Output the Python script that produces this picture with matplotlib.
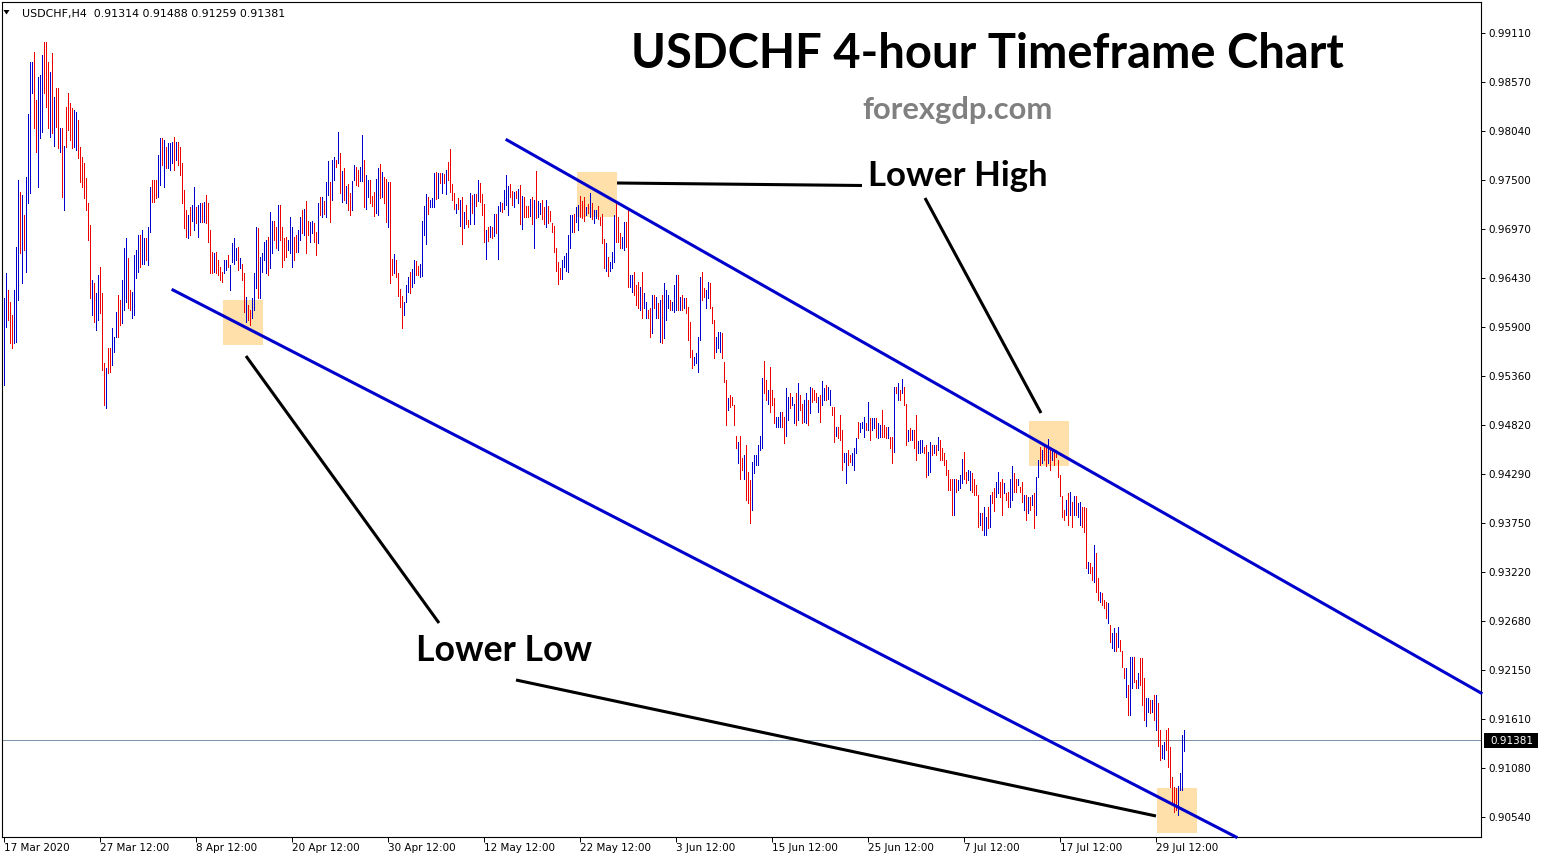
import matplotlib
matplotlib.use("Agg")
import matplotlib.pyplot as plt
import matplotlib.transforms as mtransforms
from matplotlib.patches import Rectangle, Polygon
from matplotlib.lines import Line2D
from matplotlib import font_manager
import numpy as np

# ---------------- data (USDCHF H4, prices x 10^4) ----------------
high_pips = [
    9621,9649,9630,9617,9603,9630,9677,9750,9737,9734,9712,9754,9823,9879,9879,9890,9838,9863,9865,9887,
    9901,9901,9879,9868,9889,9841,9851,9851,9807,9807,9788,9830,9845,9834,9829,9827,9825,9816,9786,9775,
    9769,9752,9725,9701,9641,9638,9627,9646,9655,9627,9550,9545,9567,9567,9588,9579,9606,9625,9619,9641,
    9676,9687,9665,9630,9628,9668,9674,9690,9690,9696,9687,9687,9699,9743,9750,9750,9750,9778,9796,9796,
    9794,9786,9791,9791,9792,9797,9792,9792,9786,9769,9739,9717,9712,9721,9723,9743,9721,9723,9725,9725,
    9726,9734,9725,9696,9672,9670,9672,9663,9655,9650,9663,9663,9668,9657,9681,9687,9676,9677,9665,9659,
    9649,9622,9614,9608,9621,9649,9699,9698,9666,9670,9682,9685,9688,9715,9706,9706,9699,9723,9723,9699,
    9687,9688,9685,9710,9699,9688,9690,9696,9710,
    9717,9719,9727,9706,9704,9705,9703,9693,9725,9732,9732,9727,9748,9771,9748,9772,9775,9772,9803,9780,
    9760,9763,9744,9746,9736,9749,9767,9764,9761,9764,9799,9772,9756,9750,9750,9733,9737,9751,9763,9768,
    9759,9754,9751,9748,9748,9664,9669,9663,9649,9631,9623,9617,9635,9644,9650,9653,9663,9662,9656,9659,
    9706,9722,9735,9732,9728,9731,9758,9759,9758,9758,9758,9757,9761,9770,9784,9746,9736,9724,9731,9728,
    9732,9715,9723,9707,9736,9734,9735,9735,9750,9747,9735,9724,9696,9699,9700,9699,9713,9713,9722,9726,
    9725,9739,9756,9744,9746,9738,9737,9738,9741,9745,9733,9732,9722,9722,9729,9732,9728,9760,9727,9725,
    9728,9721,9728,9722,9716,9703,9700,9676,9661,9654,9663,9667,9670,9690,9712,9712,9713,9721,9723,9733,
    9727,9732,9721,9724,9736,9725,9717,9717,9722,9710,9713,9686,9681,9666,9661,9672,9712,9725,9710,9692,
    9688,9704,9704,9717,9646,9646,9650,9635,9639,9633,9650,9627,9617,9608,9610,9625,9625,9622,9616,9619,
    9625,9638,9630,9625,9619,9617,9635,9646,9646,9622,9625,9621,9621,9611,9595,9564,9557,9561,9579,9644,
    9650,9632,9630,9639,9638,9611,9597,9579,9584,9584,9583,9551,9532,9512,9515,9513,9504,9471,9464,9471,
    9446,9450,9461,9431,9422,9442,9450,9450,9461,9471,9534,9553,9532,9521,9546,9521,9512,9491,9491,9497,
    9497,9491,9523,9513,9518,9513,9506,9517,9528,9515,9506,9510,9518,9510,9524,9523,9521,9517,9513,9515,
    9531,9523,9526,9524,9521,9502,9502,9480,9480,9493,9477,9452,9452,9455,9450,9452,9457,9468,9486,9485,
    9486,9491,9485,9508,9490,9490,9490,9490,9485,9482,9499,9482,9480,9480,9469,9469,9524,9524,9528,9521,
    9533,9524,9506,9477,9479,9477,9477,9493,9465,
    9466,9466,9458,9461,9453,9464,9461,9461,9461,9469,9466,9457,9452,9444,9433,9424,9424,9424,9424,9422,
    9428,9445,9453,9431,9433,9432,9430,9424,9417,9406,9386,9386,9393,9382,9393,9406,9409,9414,9420,9431,
    9420,9424,9419,9408,9409,9424,9438,9430,9424,9424,9415,9420,9406,9406,9404,9404,9406,9408,9426,9444,
    9458,9455,9461,9457,9467,9458,9455,9456,9455,9444,9428,9405,9390,9400,9408,9409,9398,9405,9405,9397,
    9398,9393,9393,9392,9333,9332,9327,9351,9343,9315,9300,9299,9291,9289,9288,9264,9255,9261,9255,9262,
    9247,9236,9217,9217,9198,9229,9229,9229,9204,9211,9228,9228,9206,9184,9184,9182,9182,9187,9187,9179,
    9149,9133,9136,9149,9151,9130,9098,9087,9086,9088,9102,9144,9149,
]
low_pips = [
    9526,9590,9597,9572,9567,9572,9573,9619,9670,9638,9674,9650,9725,9736,9845,9807,9781,9743,9796,9803,
    9845,9830,9807,9797,9802,9788,9808,9785,9781,9732,9717,9786,9805,9794,9785,9786,9783,9774,9748,9743,
    9731,9717,9685,9621,9603,9595,9586,9597,9605,9543,9504,9501,9539,9540,9548,9562,9579,9579,9592,9594,
    9608,9617,9610,9608,9600,9603,9643,9650,9655,9659,9659,9663,9657,9693,9726,9726,9731,9732,9745,9767,
    9743,9763,9763,9761,9769,9761,9772,9767,9756,9725,9698,9688,9687,9690,9706,9696,9703,9688,9704,9704,
    9704,9703,9682,9649,9649,9650,9649,9646,9641,9639,9649,9652,9655,9630,9661,9659,9663,9652,9654,9641,
    9606,9595,9597,9592,9599,9608,9632,9621,9621,9650,9663,9649,9646,9654,9670,9685,9676,9674,9685,9655,
    9663,9666,9674,9670,9655,9663,9672,9672,9685,
    9692,9690,9670,9690,9682,9692,9682,9668,9681,9712,9710,9713,9710,9734,9704,9728,9750,9764,9769,9736,
    9726,9728,9725,9717,9712,9717,9750,9745,9744,9749,9749,9721,9719,9732,9725,9722,9711,9714,9712,9731,
    9732,9725,9704,9699,9638,9647,9649,9644,9623,9612,9588,9603,9617,9628,9627,9633,9638,9646,9647,9644,
    9645,9690,9680,9713,9721,9721,9721,9729,9731,9747,9736,9747,9735,9750,9737,9728,9719,9714,9719,9700,
    9680,9698,9702,9699,9702,9714,9702,9722,9727,9726,9712,9682,9664,9684,9688,9687,9689,9692,9664,9716,
    9715,9719,9723,9712,9732,9723,9721,9731,9725,9702,9697,9710,9710,9710,9711,9702,9676,9709,9710,9713,
    9708,9702,9699,9703,9706,9694,9672,9651,9637,9642,9642,9655,9651,9650,9676,9693,9693,9704,9696,9710,
    9709,9706,9712,9714,9710,9708,9703,9709,9708,9701,9681,9654,9651,9645,9651,9654,9661,9682,9682,9676,
    9676,9674,9677,9633,9633,9628,9625,9614,9610,9608,9600,9610,9600,9599,9579,9583,9610,9600,9600,9573,
    9572,9578,9597,9610,9608,9608,9606,9608,9608,9608,9608,9610,9605,9575,9557,9545,9548,9550,9540,9575,
    9619,9622,9610,9621,9610,9594,9556,9562,9567,9562,9556,9529,9482,9499,9502,9504,9482,9457,9441,9424,
    9433,9424,9400,9397,9375,9390,9430,9439,9439,9455,9457,9517,9510,9506,9497,9504,9485,9480,9480,9480,
    9480,9463,9471,9488,9501,9504,9485,9482,9488,9499,9485,9486,9485,9482,9496,9508,9510,9508,9497,9486,
    9504,9510,9510,9511,9504,9493,9464,9471,9468,9466,9433,9442,9419,9439,9442,9439,9433,9452,9468,9475,
    9479,9469,9477,9477,9466,9477,9479,9469,9468,9469,9469,9469,9468,9468,9457,9441,9453,9518,9510,9510,
    9518,9504,9461,9465,9466,9466,9457,9444,9452,
    9452,9453,9452,9426,9428,9431,9450,9452,9450,9455,9444,9444,9439,9428,9411,9411,9384,9384,9409,9411,
    9414,9419,9424,9419,9422,9411,9409,9406,9406,9371,9373,9368,9362,9362,9370,9371,9397,9388,9404,9408,
    9404,9384,9408,9400,9393,9393,9400,9409,9409,9417,9409,9398,9390,9379,9386,9390,9395,9370,9384,9426,
    9439,9441,9444,9438,9441,9433,9444,9439,9447,9426,9405,9382,9379,9384,9373,9384,9371,9384,9384,9382,
    9373,9371,9365,9326,9321,9321,9313,9311,9300,9291,9289,9286,9283,9271,9266,9245,9239,9236,9236,9240,
    9236,9218,9206,9185,9165,9165,9195,9202,9195,9195,9198,9176,9160,9154,9169,9168,9169,9160,9149,9132,
    9116,9118,9117,9127,9109,9087,9067,9059,9062,9056,9083,9083,9126,
]
# u = bullish bar (blue), d = bearish bar (red)
direction = (
    "uuddduuudu" "duuuudduuu" "dddududdud" "udddduuddd" "dddduduudd" "dudduuuddu" "uudduuuudu"
    "uduuddduud" "uduuududdd" "dduduuduud" "uddddudddd" "uuduuuudud" "dudduuuduu" "uuduuddudd" "dduuudduu"
    "dudduuddud" "uduuduudud" "ududduuddu" "uduuddduud" "uddudduddd" "duuuduuddu" "uuuduuudud" "ududdddudu"
    "duddududud" "ddudududuu" "duuuddudud" "udddududuu" "dduddddddd" "uuuuuuduud" "ddududuudd" "dduduuuddd"
    "uudduudddu" "duuddududu" "duuuduuudu" "dudddduuuu" "dduuddduuu" "ddduddddud" "duddduuuuu" "udduddduuu"
    "dduuduudud" "duududddud" "uuduuddudd" "duudduuudu" "uududuuduu" "ddduddudud" "uddududdu"
    "uudduududu" "dddddddudu" "uudduudddd" "uduududduu" "ddudduuddu" "ddudududuu" "duddududdd" "dddudududu"
    "uddduddudd" "uddduduudu" "ddduduuddu" "ddduududud" "duuddddddu" "uuu"
)
date_labels = ["17 Mar 2020", "27 Mar 12:00", "8 Apr 12:00", "20 Apr 12:00", "30 Apr 12:00",
               "12 May 12:00", "22 May 12:00", "3 Jun 12:00", "15 Jun 12:00", "25 Jun 12:00",
               "7 Jul 12:00", "17 Jul 12:00", "29 Jul 12:00"]
bars_per_label = 48
price_ticks = [0.99110, 0.98570, 0.98040, 0.97500, 0.96970, 0.96430, 0.95900, 0.95360, 0.94820,
               0.94290, 0.93750, 0.93220, 0.92680, 0.92150, 0.91610, 0.91080, 0.90540]
last_ohlc = [0.91314, 0.91488, 0.91259, 0.91381]
symbol = "USDCHF,H4"

n = min(len(high_pips), len(low_pips), len(direction))
high = np.array(high_pips[:n]) / 1e4
low = np.array(low_pips[:n]) / 1e4

# ---------------- figure ----------------
W, H = 1545, 860
fig = plt.figure(figsize=(W / 100, H / 100), dpi=100)
fig.patch.set_facecolor("white")
pix = mtransforms.Affine2D().scale(1, -1).translate(0, H)   # image pixels (origin top-left)

ax_l, ax_r, ax_t, ax_b = 2, 1481, 2, 837
ax = fig.add_axes([ax_l / W, (H - ax_b) / H, (ax_r - ax_l) / W, (ax_b - ax_t) / H])
ax.set_facecolor("white")

# price scale: 0.99110 at pixel row 33, 0.90540 at row 817
k = (price_ticks[0] - price_ticks[-1]) / (817 - 33)
def row_price(r):
    return price_ticks[0] - (r - 33) * k
ax.set_ylim(row_price(ax_b), row_price(ax_t))
ax.set_xlim(-0.75, -0.75 + (ax_r - ax_l) / 2.0)

UP, DOWN = "#0000cd", "#ee0000"
cols = [UP if c == "u" else DOWN for c in direction[:n]]
ax.vlines(np.arange(n), low, high, colors=cols, linewidth=0.55, antialiased=False, zorder=3)

# current price line
ax.axhline(last_ohlc[3], color="#7890a8", lw=0.7, zorder=2)

# axes styling
for s in ax.spines.values():
    s.set_color("black")
    s.set_linewidth(0.8)
ax.yaxis.tick_right()
ax.set_yticks(price_ticks)
ax.set_yticklabels([f"{p:.5f}" for p in price_ticks])
ax.tick_params(axis="y", direction="out", length=3, width=0.7, pad=2.5, labelsize=7.5, colors="black")
xt = [i * bars_per_label for i in range(len(date_labels))]
ax.set_xticks(xt)
ax.set_xticklabels(date_labels)
ax.tick_params(axis="x", direction="out", length=3.5, width=0.7, pad=0.5, labelsize=7.5, colors="black")
for lab in ax.get_xticklabels():
    lab.set_horizontalalignment("left")

# ---------------- annotations (pixel positions) ----------------
BOX = "#ffdfaa"
for (x0, y0, x1, y1) in [(223, 300, 263, 345), (577, 172, 617, 217), (1029, 421, 1069, 466), (1157, 788, 1197, 833)]:
    ax.add_patch(Rectangle((x0, y0), x1 - x0, y1 - y0, transform=pix, facecolor=BOX,
                           edgecolor="none", zorder=1, clip_on=False))

TL = "#0000cd"
for (xa, ya, xb, yb) in [(507, 140, 1481, 693), (173, 290, 1236, 837)]:
    ax.add_line(Line2D([xa, xb], [ya, yb], transform=pix, color=TL, lw=2.2, zorder=4, clip_on=False))
for (xa, ya, xb, yb) in [(617, 183, 862, 185.5), (925, 198, 1041, 413), (246, 356, 439, 623), (516, 680, 1156, 816)]:
    ax.add_line(Line2D([xa, xb], [ya, yb], transform=pix, color="black", lw=2.2, zorder=4,
                       clip_on=False, solid_capstyle="butt"))

# price label on the scale
fig.patches.append(Rectangle((1484, 733), 54, 15, transform=pix, facecolor="black", edgecolor="none"))
fig.text(1490, 740.5, f"{last_ohlc[3]:.5f}", transform=pix, color="white", fontsize=7.5,
         va="center", ha="left", family="DejaVu Sans")

# header
fig.patches.append(Polygon([(3.5, 10), (9.5, 10), (6.5, 14.5)], closed=True, transform=pix,
                           facecolor="black", edgecolor="none"))

def pick(fams, weight="bold"):
    for f in fams:
        try:
            font_manager.findfont(font_manager.FontProperties(family=f, weight=weight),
                                  fallback_to_default=False)
            return f
        except Exception:
            pass
    return "DejaVu Sans"

TITLE_FONT = pick(["Lato", "Open Sans", "DejaVu Sans"])
renderer = fig.canvas.get_renderer()

def fit_text(s, x0, x1, ybase, family, weight="bold", color="black"):
    t = fig.text(x0, ybase, s, transform=pix, fontsize=20, family=family, weight=weight,
                 color=color, ha="left", va="baseline")
    w = t.get_window_extent(renderer).width
    t.set_fontsize(20 * (x1 - x0) / w)
    return t

fit_text(f"{symbol}  " + " ".join(f"{v:.5f}" for v in last_ohlc), 21.5, 286, 16.5,
         "DejaVu Sans", weight="normal")
fit_text("USDCHF 4-hour Timeframe Chart", 631, 1344, 68, TITLE_FONT)
fit_text("forexgdp.com", 862, 1052, 119, TITLE_FONT, color="#808080")
fit_text("Lower High", 868, 1048, 186, TITLE_FONT)
fit_text("Lower Low", 416, 592, 661, TITLE_FONT)

fig.savefig("out.png", dpi=100, facecolor="white")
